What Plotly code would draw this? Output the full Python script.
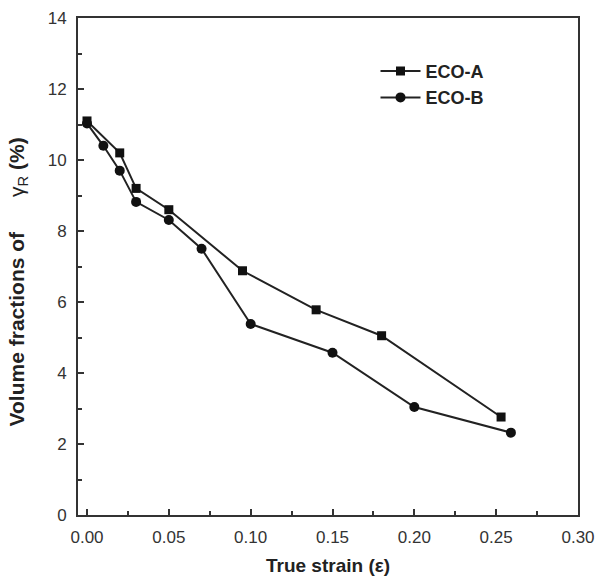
import plotly.graph_objects as go

# Data
eco_a_strain = [0.0, 0.02, 0.03, 0.05, 0.095, 0.14, 0.18, 0.253]
eco_a_vol = [11.1, 10.2, 9.2, 8.6, 6.88, 5.78, 5.05, 2.76]
eco_b_strain = [0.0, 0.01, 0.02, 0.03, 0.05, 0.07, 0.10, 0.15, 0.20, 0.259]
eco_b_vol = [11.03, 10.4, 9.7, 8.82, 8.31, 7.5, 5.38, 4.57, 3.04, 2.32]
x_ticks = [0.0, 0.05, 0.10, 0.15, 0.20, 0.25, 0.30]
x_tick_labels = ["0.00", "0.05", "0.10", "0.15", "0.20", "0.25", "0.30"]
y_ticks = [0, 2, 4, 6, 8, 10, 12, 14]

FONT = "Liberation Sans, Arial, sans-serif"
INK = "#222222"

fig = go.Figure()
fig.add_trace(go.Scatter(
    x=eco_a_strain, y=eco_a_vol, name="<b>ECO-A</b>", mode="lines+markers",
    line=dict(color=INK, width=2),
    marker=dict(symbol="square", size=9, color="#111111"),
))
fig.add_trace(go.Scatter(
    x=eco_b_strain, y=eco_b_vol, name="<b>ECO-B</b>", mode="lines+markers",
    line=dict(color=INK, width=2),
    marker=dict(symbol="circle", size=10, color="#111111"),
))

axis_common = dict(
    showgrid=False, zeroline=False, showline=True, linecolor="#333333",
    linewidth=2, mirror=True, ticks="inside", ticklen=6, tickwidth=2,
    tickcolor="#333333", ticklabelstandoff=6, automargin=False,
    tickfont=dict(family=FONT, size=17, color="#333333"),
    minor=dict(ticks="inside", ticklen=4, tickwidth=2, tickcolor="#333333"),
)

fig.update_xaxes(
    range=[-0.0055, 0.3], tickvals=x_ticks, ticktext=x_tick_labels,
    minor_dtick=0.025,
    title=dict(text="<b>True strain (ε)</b>", font=dict(family=FONT, size=19, color=INK), standoff=12),
    **axis_common,
)
fig.update_yaxes(
    range=[0, 14], tickvals=y_ticks, minor_dtick=1,
    **axis_common,
)

fig.add_annotation(
    text="<b>Volume fractions of</b>      γ<sub>R</sub> <b>(%)</b>",
    xref="paper", yref="paper", x=-0.12, y=0.468, textangle=-90,
    showarrow=False, font=dict(family=FONT, size=21, color=INK),
    xanchor="center", yanchor="middle",
)

fig.update_layout(
    width=597, height=576,
    margin=dict(l=78, r=19, t=18, b=61),
    paper_bgcolor="white", plot_bgcolor="white",
    showlegend=True,
    legend=dict(
        x=0.595, y=0.93, xanchor="left", yanchor="top",
        bgcolor="rgba(0,0,0,0)", borderwidth=0,
        font=dict(family=FONT, size=18, color=INK),
        itemwidth=40, tracegroupgap=0,
    ),
)

fig.write_html("out.html")
